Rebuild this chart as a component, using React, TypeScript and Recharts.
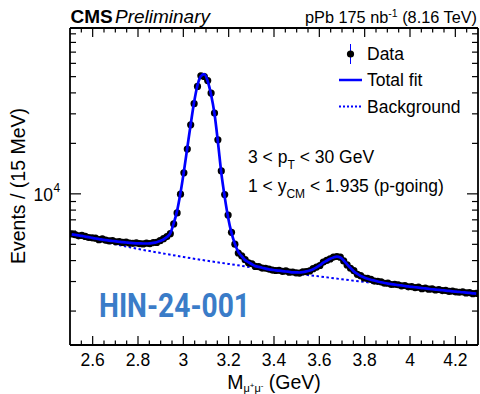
import { ComposedChart, Line, XAxis, YAxis } from 'recharts'

// dimuon mass spectrum, 15 MeV bins from 2.5 to 4.3 GeV
const massLow = 2.5
const binWidth = 0.015

const dataCounts = [
  5760, 5705, 5620, 5650, 5575, 5490, 5470, 5440, 5330, 5385,
  5290, 5240, 5270, 5180, 5195, 5130, 5160, 5090, 5070, 5100,
  5045, 5030, 5080, 5050, 5120, 5135, 5260, 5400, 5560, 5790,
  6620, 7700, 9960, 13350, 18500, 25800, 34500, 43700, 50600, 50100,
  47400, 39900, 30300, 21000, 13700, 9900, 7480, 5900, 5010, 4440,
  4270, 4050, 3880, 3830, 3690, 3680, 3610, 3600, 3560, 3510,
  3490, 3500, 3450, 3470, 3410, 3420, 3380, 3370, 3430, 3440,
  3470, 3580, 3660, 3740, 3920, 4010, 4090, 4200, 4230, 4190,
  3980, 3770, 3600, 3480, 3310, 3250, 3150, 3130, 3090, 3020,
  3010, 2990, 2930, 2935, 2880, 2890, 2870, 2830, 2840, 2790,
  2800, 2760, 2775, 2720, 2745, 2700, 2710, 2670, 2690, 2650,
  2660, 2620, 2635, 2600, 2590, 2605, 2565, 2575, 2540, 2550,
]

const fitCounts = [
  5731, 5692, 5653, 5614, 5560, 5515, 5462, 5417, 5373, 5336,
  5299, 5264, 5235, 5206, 5177, 5149, 5128, 5107, 5086, 5072,
  5065, 5058, 5058, 5072, 5100, 5149, 5228, 5344, 5523, 5810,
  6666, 7914, 10138, 13623, 18822, 25995, 35175, 44443, 50290, 51690,
  46955, 38998, 30035, 20439, 13346, 9596, 7239, 5850, 5030, 4506,
  4247, 4025, 3911, 3805, 3707, 3667, 3627, 3582, 3548, 3524,
  3500, 3481, 3462, 3443, 3424, 3405, 3401, 3396, 3414, 3447,
  3490, 3553, 3642, 3754, 3885, 3992, 4103, 4177, 4218, 4171,
  4008, 3795, 3617, 3447, 3330, 3240, 3174, 3118, 3075, 3041,
  2999, 2971, 2942, 2918, 2898, 2878, 2858, 2843, 2823, 2804,
  2788, 2773, 2758, 2743, 2728, 2713, 2698, 2687, 2672, 2661,
  2647, 2636, 2621, 2610, 2600, 2589, 2575, 2564, 2553, 2543,
]

const bkgMass = [2.5, 2.6, 2.7, 2.8, 2.9, 3.0, 3.1, 3.2, 3.3, 3.4, 3.5, 3.6, 3.7, 3.8, 3.9, 4.0, 4.1, 4.2, 4.3]
const bkgCounts = [5692, 5336, 5002, 4694, 4438, 4206, 3998, 3820, 3650, 3499, 3348, 3218, 3095, 2983, 2883, 2770, 2685, 2600, 2530]

const xMajorTicks = [2.6, 2.8, 3, 3.2, 3.4, 3.6, 3.8, 4, 4.2]
const xMinorTicks = [
  2.55, 2.65, 2.7, 2.75, 2.85, 2.9, 2.95, 3.05, 3.1, 3.15, 3.25, 3.3, 3.35,
  3.45, 3.5, 3.55, 3.65, 3.7, 3.75, 3.85, 3.9, 3.95, 4.05, 4.1, 4.15, 4.25,
]
const yMajorTicks = [10000]
const yMinorTicks = [2000, 3000, 4000, 5000, 6000, 7000, 8000, 9000, 20000, 30000, 40000, 50000, 60000, 70000, 80000, 90000]

const rows = dataCounts.map((n, i) => ({
  m: massLow + binWidth * (i + 0.5),
  data: n,
  fit: fitCounts[i],
}))
const bkgRows = bkgMass.map((m, i) => ({ m, bkg: bkgCounts[i] }))

const xTicks = [...xMajorTicks, ...xMinorTicks].sort((a, b) => a - b)
const yTicks = [...yMajorTicks, ...yMinorTicks].sort((a, b) => a - b)

const X_DOMAIN = [2.5, 4.3]
const Y_DOMAIN = [1255, 97500]

const FONT = '"Liberation Sans", Arial, Helvetica, sans-serif'
const BLUE = '#0000ff'

function XTick(props: any) {
  const { x, y, payload, top } = props
  const v = payload.value
  const major = xMajorTicks.some((t) => Math.abs(t - v) < 1e-6)
  const len = major ? 9 : 4.5
  const dir = top ? 1 : -1
  return (
    <g>
      <line x1={x} x2={x} y1={y} y2={y + dir * len} stroke="#000" strokeWidth={1.2} />
      {!top && major && (
        <text x={x} y={y + 20.5} textAnchor="middle" fontSize={17.5} fontFamily={FONT} fill="#000">
          {String(v)}
        </text>
      )}
    </g>
  )
}

function YTick(props: any) {
  const { x, y, payload, right } = props
  const major = yMajorTicks.includes(payload.value)
  const len = major ? 11 : 6
  const dir = right ? -1 : 1
  return (
    <g>
      <line x1={x} x2={x + dir * len} y1={y} y2={y} stroke="#000" strokeWidth={1.2} />
      {!right && major && (
        <g fontFamily={FONT} fill="#000">
          <text x={x - 17} y={y + 7} textAnchor="end" fontSize={17.5}>10</text>
          <text x={x - 16.5} y={y - 2} fontSize={12}>4</text>
        </g>
      )}
    </g>
  )
}

const DataDot = (p: any) => {
  if (p.cx == null || p.cy == null) return <g key={p.index} />
  return <circle key={p.index} cx={p.cx} cy={p.cy} r={3.6} fill="#000" />
}

const frameLine = { stroke: '#000', strokeWidth: 1.8 }

// plot frame: left 70, right 478, top 28, bottom 345
const plotMargin = { top: 28, right: 2, bottom: 49, left: 70 }

export default function App() {
  return (
    <div style={{ position: 'absolute', left: 0, top: 0, width: 480, height: 394, background: '#fff' }}>
      <ComposedChart width={480} height={394} data={rows} margin={{ top: 0, right: 0, bottom: 0, left: 0 }}>
        <XAxis
          xAxisId="b"
          dataKey="m"
          type="number"
          domain={X_DOMAIN}
          allowDataOverflow
          height={49}
          ticks={xTicks}
          interval={0}
          tickSize={0}
          tickMargin={0}
          tickLine={false}
          axisLine={frameLine}
          tick={(p: any) => <XTick {...p} />}
        />
        <XAxis
          xAxisId="t"
          orientation="top"
          dataKey="m"
          type="number"
          domain={X_DOMAIN}
          allowDataOverflow
          height={28}
          ticks={xTicks}
          interval={0}
          tickSize={0}
          tickMargin={0}
          tickLine={false}
          axisLine={frameLine}
          tick={(p: any) => <XTick {...p} top />}
        />
        <YAxis
          yAxisId="l"
          orientation="left"
          type="number"
          scale="log"
          domain={Y_DOMAIN}
          allowDataOverflow
          width={70}
          ticks={yTicks}
          interval={0}
          tickSize={0}
          tickMargin={0}
          tickLine={false}
          axisLine={frameLine}
          tick={(p: any) => <YTick {...p} />}
        />
        <YAxis
          yAxisId="r"
          orientation="right"
          type="number"
          scale="log"
          domain={Y_DOMAIN}
          allowDataOverflow
          width={2}
          ticks={yTicks}
          interval={0}
          tickSize={0}
          tickMargin={0}
          tickLine={false}
          axisLine={frameLine}
          tick={(p: any) => <YTick {...p} right />}
        />
        <Line
          xAxisId="b"
          yAxisId="l"
          data={bkgRows}
          dataKey="bkg"
          type="monotone"
          stroke={BLUE}
          strokeWidth={2}
          strokeDasharray="2.5 2.5"
          dot={false}
          activeDot={false}
          isAnimationActive={false}
        />
        <Line
          xAxisId="b"
          yAxisId="l"
          dataKey="data"
          stroke="none"
          strokeWidth={0}
          dot={DataDot}
          activeDot={false}
          isAnimationActive={false}
        />
      </ComposedChart>

      {/* total fit drawn in a second, transparent chart so it sits above the data markers */}
      <div style={{ position: 'absolute', left: 0, top: 0, pointerEvents: 'none' }}>
        <ComposedChart width={480} height={394} data={rows} margin={plotMargin}>
          <XAxis xAxisId="b" dataKey="m" type="number" domain={X_DOMAIN} allowDataOverflow hide />
          <YAxis yAxisId="l" type="number" scale="log" domain={Y_DOMAIN} allowDataOverflow hide />
          <Line
            xAxisId="b"
            yAxisId="l"
            dataKey="fit"
            type="monotone"
            stroke={BLUE}
            strokeWidth={2.7}
            dot={false}
            activeDot={false}
            isAnimationActive={false}
          />
        </ComposedChart>
      </div>

      <svg
        width={480}
        height={394}
        style={{ position: 'absolute', left: 0, top: 0, pointerEvents: 'none' }}
        fontFamily={FONT}
        fill="#000"
      >
        <text x={70.5} y={23} fontSize={19} fontWeight="bold">CMS</text>
        <text x={115} y={23} fontSize={19} fontStyle="italic">Preliminary</text>
        <text x={477} y={22.5} fontSize={16.3} textAnchor="end">
          pPb 175 nb<tspan dy={-6} fontSize={10.5}>-1</tspan>
          <tspan dy={6}> (8.16 TeV)</tspan>
        </text>

        {/* legend */}
        <line x1={350.5} x2={350.5} y1={44} y2={64} stroke={BLUE} strokeWidth={1} />
        <circle cx={350.5} cy={54} r={3.6} fill="#000" />
        <text x={367} y={60} fontSize={17.5}>Data</text>
        <line x1={339} x2={362} y1={80} y2={80} stroke={BLUE} strokeWidth={2.5} />
        <text x={367} y={86} fontSize={17.5}>Total fit</text>
        <line x1={339} x2={362} y1={106.5} y2={106.5} stroke={BLUE} strokeWidth={2} strokeDasharray="2 2" />
        <text x={367} y={112.5} fontSize={17.5}>Background</text>

        <text x={248} y={163.3} fontSize={17.5}>
          {'3 < p'}
          <tspan dy={6} fontSize={12}>T</tspan>
          <tspan dy={-6}>{' < 30 GeV'}</tspan>
        </text>
        <text x={248} y={191.5} fontSize={17.5}>
          {'1 < y'}
          <tspan dy={6} fontSize={12}>CM</tspan>
          <tspan dy={-6}>{' < 1.935 (p-going)'}</tspan>
        </text>

        <text
          x={99}
          y={317}
          fontSize={33}
          fontWeight="bold"
          fontFamily="Roboto, sans-serif"
          fill="#3a7cc8"
          textLength={151}
          lengthAdjust="spacingAndGlyphs"
        >
          HIN-24-001
        </text>

        <text transform="translate(25,186) rotate(-90)" textAnchor="middle" fontSize={19.5}>
          Events / (15 MeV)
        </text>
        <text x={274} y={389} textAnchor="middle" fontSize={19.5}>
          M<tspan fontSize={11} dy={2.5}>μ</tspan>
          <tspan fontSize={8} dy={-4}>+</tspan>
          <tspan fontSize={11} dy={4}>μ</tspan>
          <tspan fontSize={8} dy={-4}>-</tspan>
          <tspan dy={1.5}> (GeV)</tspan>
        </text>
      </svg>
    </div>
  )
}
